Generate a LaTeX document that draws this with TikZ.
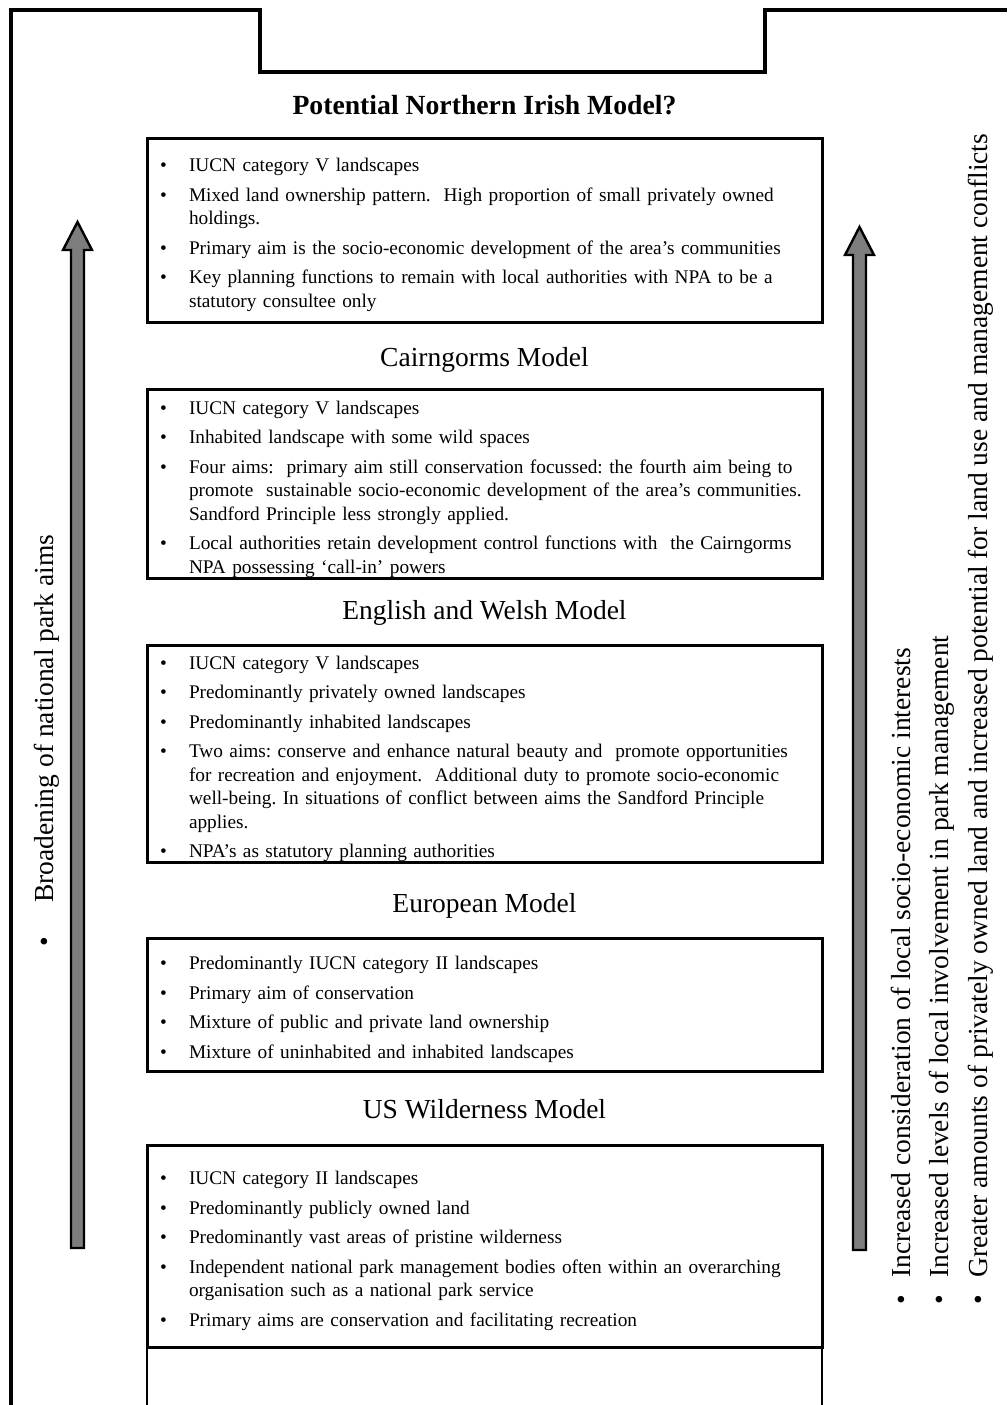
\documentclass[tikz,border=0pt]{standalone}
\usepackage{fontspec}
\setmainfont{Liberation Serif}
\usepackage{tikz}

\definecolor{arrowgrey}{RGB}{125,125,125}

\newenvironment{parklist}{\begin{list}{\textbullet}{%
  \setlength{\leftmargin}{36pt}\setlength{\labelwidth}{10pt}%
  \setlength{\labelsep}{22pt}\setlength{\itemsep}{6pt}%
  \setlength{\parsep}{0pt}\setlength{\topsep}{0pt}\setlength{\partopsep}{0pt}}}%
  {\end{list}}
\frenchspacing

\begin{document}
\begin{tikzpicture}[x=1pt,y=-1pt]
\tikzstyle{every node}+=[inner sep=0pt]
\tikzstyle{modelbox}=[draw, line width=3pt, outer sep=0pt, text width=663pt, inner xsep=6pt, align=left, font=\fontsize{19.3pt}{23.5pt}\selectfont]
\tikzstyle{modeltitle}=[anchor=base, font=\fontsize{27.5pt}{33pt}\selectfont]
\tikzstyle{sidetext}=[rotate=90, anchor=base west, font=\fontsize{27.5pt}{33pt}\selectfont]
\tikzstyle{parkarrow}=[draw=black, fill=arrowgrey, line width=2.4pt, line join=miter]
\useasboundingbox (0,0) rectangle (1007,1405);
% outer frame with notch
\draw [line width=3.3pt] (11,1405) -- (11,10) -- (260,10) -- (260,72) -- (765,72) -- (765,10) -- (1007,10);
% titles
\node [modeltitle, font=\fontsize{27.7pt}{33pt}\selectfont\bfseries] (titleNI) at (484.5,114) {Potential Northern Irish Model?};
\node [modeltitle] (titleCG) at (484.5,366) {Cairngorms Model};
\node [modeltitle] (titleEW) at (484.5,619) {English and Welsh Model};
\node [modeltitle] (titleEU) at (484.5,912) {European Model};
\node [modeltitle] (titleUS) at (484.5,1118) {US Wilderness Model};
% model boxes
\node [modelbox, minimum height=184pt] (boxNI) at (484.5,230) {\begin{parklist}
\item IUCN category V landscapes
\item Mixed land ownership pattern.~ High proportion of small privately owned\newline holdings.
\item Primary aim is the socio-economic development of the area's communities
\item Key planning functions to remain with local authorities with NPA to be a\newline statutory consultee only
\end{parklist}};
\node [modelbox, minimum height=189pt] (boxCG) at (484.5,484) {\begin{parklist}
\item IUCN category V landscapes
\item Inhabited landscape with some wild spaces
\item Four aims:~ primary aim still conservation focussed: the fourth aim being to\newline promote~ sustainable socio-economic development of the area's communities.\newline Sandford Principle less strongly applied.
\item Local authorities retain development control functions with~ the Cairngorms\newline NPA possessing `call-in' powers
\end{parklist}};
\node [modelbox, minimum height=217pt] (boxEW) at (484.5,754) {\begin{parklist}
\item IUCN category V landscapes
\item Predominantly privately owned landscapes
\item Predominantly inhabited landscapes
\item Two aims: conserve and enhance natural beauty and~ promote opportunities\newline for recreation and enjoyment.~ Additional duty to promote socio-economic\newline well-being. In situations of conflict between aims the Sandford Principle\newline applies.
\item NPA's as statutory planning authorities
\end{parklist}};
\node [modelbox, minimum height=133pt] (boxEU) at (484.5,1004.5) {\begin{parklist}
\item Predominantly IUCN category II landscapes
\item Primary aim of conservation
\item Mixture of public and private land ownership
\item Mixture of uninhabited and inhabited landscapes
\end{parklist}};
\node [modelbox, minimum height=202pt] (boxUS) at (484.5,1246) {\begin{parklist}
\item IUCN category II landscapes
\item Predominantly publicly owned land
\item Predominantly vast areas of pristine wilderness
\item Independent national park management bodies often within an overarching\newline organisation such as a national park service
\item Primary aims are conservation and facilitating recreation
\end{parklist}};
% open box below the last model
\draw [line width=2.4pt] (boxUS.south west) -- (147,1405);
\draw [line width=2.4pt] (boxUS.south east) -- (822,1405);
% side arrows
\draw [parkarrow] (71,1248) -- (71,250) -- (63,250) -- (77.5,222) -- (92,250) -- (84,250) -- (84,1248) -- cycle;
\draw [parkarrow] (853,1250) -- (853,255) -- (845,255) -- (859.5,227) -- (874,255) -- (866,255) -- (866,1250) -- cycle;
% side texts
\node [sidetext] (aimsText) at (53,947) {\makebox[44pt][l]{\textbullet}Broadening of national park aims};
\node [sidetext] (localText) at (910,1305) {\makebox[27pt][l]{\textbullet}Increased consideration of local socio-economic interests};
\node [sidetext] (involveText) at (948,1305) {\makebox[27pt][l]{\textbullet}Increased levels of local involvement in park management};
\node [sidetext] (ownedText) at (987,1305) {\makebox[27pt][l]{\textbullet}Greater amounts of privately owned land and increased potential for land use and management conflicts};
\end{tikzpicture}
\end{document}
